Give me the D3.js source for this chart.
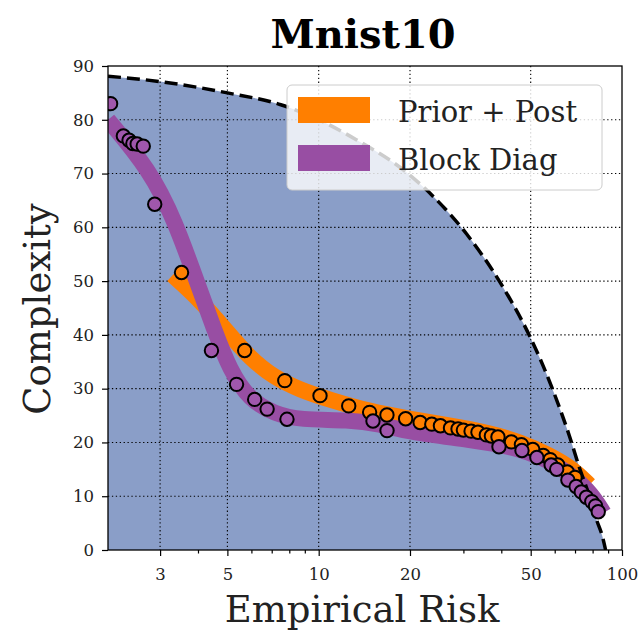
<!DOCTYPE html>
<html><head><meta charset="utf-8">
<script src="https://cdn.jsdelivr.net/npm/d3@7"></script>
<style>body{margin:0;background:#fff}svg{display:block}</style>
</head><body>
<script>
const title = "Mnist10";
const xLabel = "Empirical Risk";
const yLabel = "Complexity";
const seriesNames = ["Prior + Post", "Block Diag"];
const seriesColors = ["#ff7f00", "#984ea3"];

const xMajorTicks = [3, 5, 10, 20, 50, 100];
const xMinorTicks = [4, 6, 7, 8, 9, 30, 40, 60, 70, 80, 90];
const yTicks = [0, 10, 20, 30, 40, 50, 60, 70, 80, 90];

// dashed boundary curve
const boundX = [2.02, 3, 5, 7.5, 10, 13.3, 19.5, 24, 30.7, 39.5, 49.6, 55, 59.5, 67, 72.4, 78.8, 82, 86.5, 88.3];
const boundY = [88.1, 87.1, 85.0, 82.8, 80.0, 76.3, 70.2, 65.6, 58.8, 49.9, 39.8, 34.2, 29.4, 21.3, 15.3, 9.3, 6.0, 2.2, 0];

// Prior + Post band (smoothed fit)
const priorBandX = [3.3, 4.06, 4.94, 5.92, 7.17, 8.66, 10.9, 14.7, 19.9, 26.9, 36.6, 46, 57.6, 69.6, 78];
const priorBandY = [51.1, 46.5, 40.9, 35.7, 32.0, 29.8, 27.9, 25.8, 24.4, 23.2, 21.8, 20.1, 17.7, 14.9, 12.1];
// Block Diag band (smoothed fit)
const blockBandX = [2.02, 2.77, 3.35, 4.06, 4.53, 5.09, 5.92, 7.17, 8.66, 12.6, 15.9, 19.9, 31.4, 46, 62, 78, 87];
const blockBandY = [80.0, 70.7, 61.4, 48.3, 40.9, 33.5, 27.9, 25.3, 24.2, 24.2, 23.4, 21.9, 20.5, 19.0, 15.8, 11.2, 6.9];

// Prior + Post points
const priorX = [3.53, 5.70, 7.73, 10.1, 12.56, 14.72, 16.79, 19.35, 21.6, 23.6, 25.2, 27.2, 28.8, 30.0, 31.8, 33.5, 35.7, 37.1, 39.0, 43.2, 46.6, 50.8, 55.0, 58.0, 61.4, 66.0, 70.0];
const priorY = [51.6, 37.1, 31.5, 28.7, 26.8, 25.6, 25.1, 24.4, 23.7, 23.4, 23.1, 22.7, 22.5, 22.3, 22.1, 21.9, 21.4, 21.2, 21.0, 20.1, 19.6, 18.7, 17.6, 16.8, 15.8, 14.5, 13.5];
// Block Diag points
const blockX = [2.06, 2.27, 2.37, 2.44, 2.52, 2.64, 2.88, 4.43, 5.36, 6.15, 6.76, 7.86, 15.1, 16.8, 39.3, 46.8, 52.4, 58.4, 60.9, 66.3, 70.6, 73.4, 76.3, 79.5, 81.8, 83.5];
const blockY = [83.0, 77.0, 76.2, 75.6, 75.5, 75.1, 64.3, 37.1, 30.8, 28.0, 26.2, 24.3, 24.0, 22.2, 19.2, 18.5, 17.2, 15.8, 15.0, 13.0, 11.8, 10.8, 9.8, 9.0, 8.2, 7.1];

const W = 638, H = 635;
const L = 108, R = 622, T = 66, B = 550;
const FONT = "'DejaVu Serif', serif";

const svg = d3.select("body").append("svg").attr("width", W).attr("height", H);
const x = d3.scaleLog().domain([2.02, 100]).range([L, R]);
const y = d3.scaleLinear().domain([0, 90]).range([B, T]);

svg.append("clipPath").attr("id", "clip").append("rect")
  .attr("x", L).attr("y", T).attr("width", R - L).attr("height", B - T);
const plot = svg.append("g").attr("clip-path", "url(#clip)");

const zip = (a, b) => a.map((v, i) => [v, b[i]]);
const bound = zip(boundX, boundY);

// fill under boundary
plot.append("path")
  .datum(bound)
  .attr("d", d3.area().x(d => x(d[0])).y0(y(0)).y1(d => y(d[1])).curve(d3.curveMonotoneX))
  .attr("fill", "#8a9ec8");

// grid
const grid = plot.append("g").attr("stroke", "#000").attr("stroke-width", 1.1).attr("stroke-dasharray", "1.3,2.6");
xMajorTicks.filter(v => v < 100).forEach(v => {
  grid.append("line").attr("x1", x(v)).attr("x2", x(v)).attr("y1", T).attr("y2", B);
});
yTicks.filter(v => v > 0 && v < 90).forEach(v => {
  grid.append("line").attr("x1", L).attr("x2", R).attr("y1", y(v)).attr("y2", y(v));
});

const lineGen = d3.line().x(d => x(d[0])).y(d => y(d[1])).curve(d3.curveBasis);

// bands
plot.append("path").datum(zip(priorBandX, priorBandY)).attr("d", lineGen)
  .attr("fill", "none").attr("stroke", seriesColors[0]).attr("stroke-width", 16);
plot.append("path").datum(zip(blockBandX, blockBandY)).attr("d", lineGen)
  .attr("fill", "none").attr("stroke", seriesColors[1]).attr("stroke-width", 16);

// boundary dashed
plot.append("path").datum(bound)
  .attr("d", d3.line().x(d => x(d[0])).y(d => y(d[1])).curve(d3.curveMonotoneX))
  .attr("fill", "none").attr("stroke", "#000").attr("stroke-width", 3.5)
  .attr("stroke-dasharray", "13,6");

// markers
plot.append("g").selectAll("circle").data(zip(priorX, priorY)).join("circle")
  .attr("cx", d => x(d[0])).attr("cy", d => y(d[1])).attr("r", 6.7)
  .attr("fill", seriesColors[0]).attr("stroke", "#000").attr("stroke-width", 2);
plot.append("g").selectAll("circle").data(zip(blockX, blockY)).join("circle")
  .attr("cx", d => x(d[0])).attr("cy", d => y(d[1])).attr("r", 6.7)
  .attr("fill", "#a057ac").attr("stroke", "#000").attr("stroke-width", 2);

// frame
svg.append("rect").attr("x", L).attr("y", T).attr("width", R - L).attr("height", B - T)
  .attr("fill", "none").attr("stroke", "#000").attr("stroke-width", 1.3);

// axes
const xAxis = svg.append("g").attr("transform", `translate(0,${B})`)
  .call(d3.axisBottom(x).tickValues(xMajorTicks).tickFormat(d3.format("d")).tickSize(6).tickPadding(12));
const xMinor = svg.append("g").attr("transform", `translate(0,${B})`)
  .call(d3.axisBottom(x).tickValues(xMinorTicks).tickFormat("").tickSize(3.5));
const yAxis = svg.append("g").attr("transform", `translate(${L},0)`)
  .call(d3.axisLeft(y).tickValues(yTicks).tickSize(6).tickPadding(8));
[xAxis, xMinor, yAxis].forEach(g => {
  g.select(".domain").remove();
  g.selectAll(".tick line").attr("stroke", "#000").attr("stroke-width", 1.2);
  g.selectAll("text").attr("font-family", FONT).attr("font-size", 16.5).attr("fill", "#222");
});

// labels
svg.append("text").attr("x", 363).attr("y", 48).attr("text-anchor", "middle")
  .attr("font-family", FONT).attr("font-weight", "bold").attr("font-size", 40).text(title);
svg.append("text").attr("x", 362).attr("y", 622).attr("text-anchor", "middle")
  .attr("font-family", FONT).attr("font-size", 37).attr("fill", "#222").text(xLabel);
svg.append("text").attr("transform", "translate(50,309) rotate(-90)").attr("text-anchor", "middle")
  .attr("font-family", FONT).attr("font-size", 37).attr("fill", "#222").text(yLabel);

// legend
const lg = svg.append("g");
lg.append("rect").attr("x", 287).attr("y", 85).attr("width", 315).attr("height", 105).attr("rx", 5)
  .attr("fill", "#fff").attr("fill-opacity", 0.8).attr("stroke", "#ccc").attr("stroke-width", 1);
seriesNames.forEach((name, i) => {
  const yy = 97 + i * 48;
  lg.append("rect").attr("x", 298).attr("y", yy).attr("width", 72).attr("height", 26).attr("fill", seriesColors[i]);
  lg.append("text").attr("x", 398).attr("y", yy + 25).attr("font-family", FONT).attr("font-size", 29)
    .attr("fill", "#222").text(name);
});
</script>
</body></html>
